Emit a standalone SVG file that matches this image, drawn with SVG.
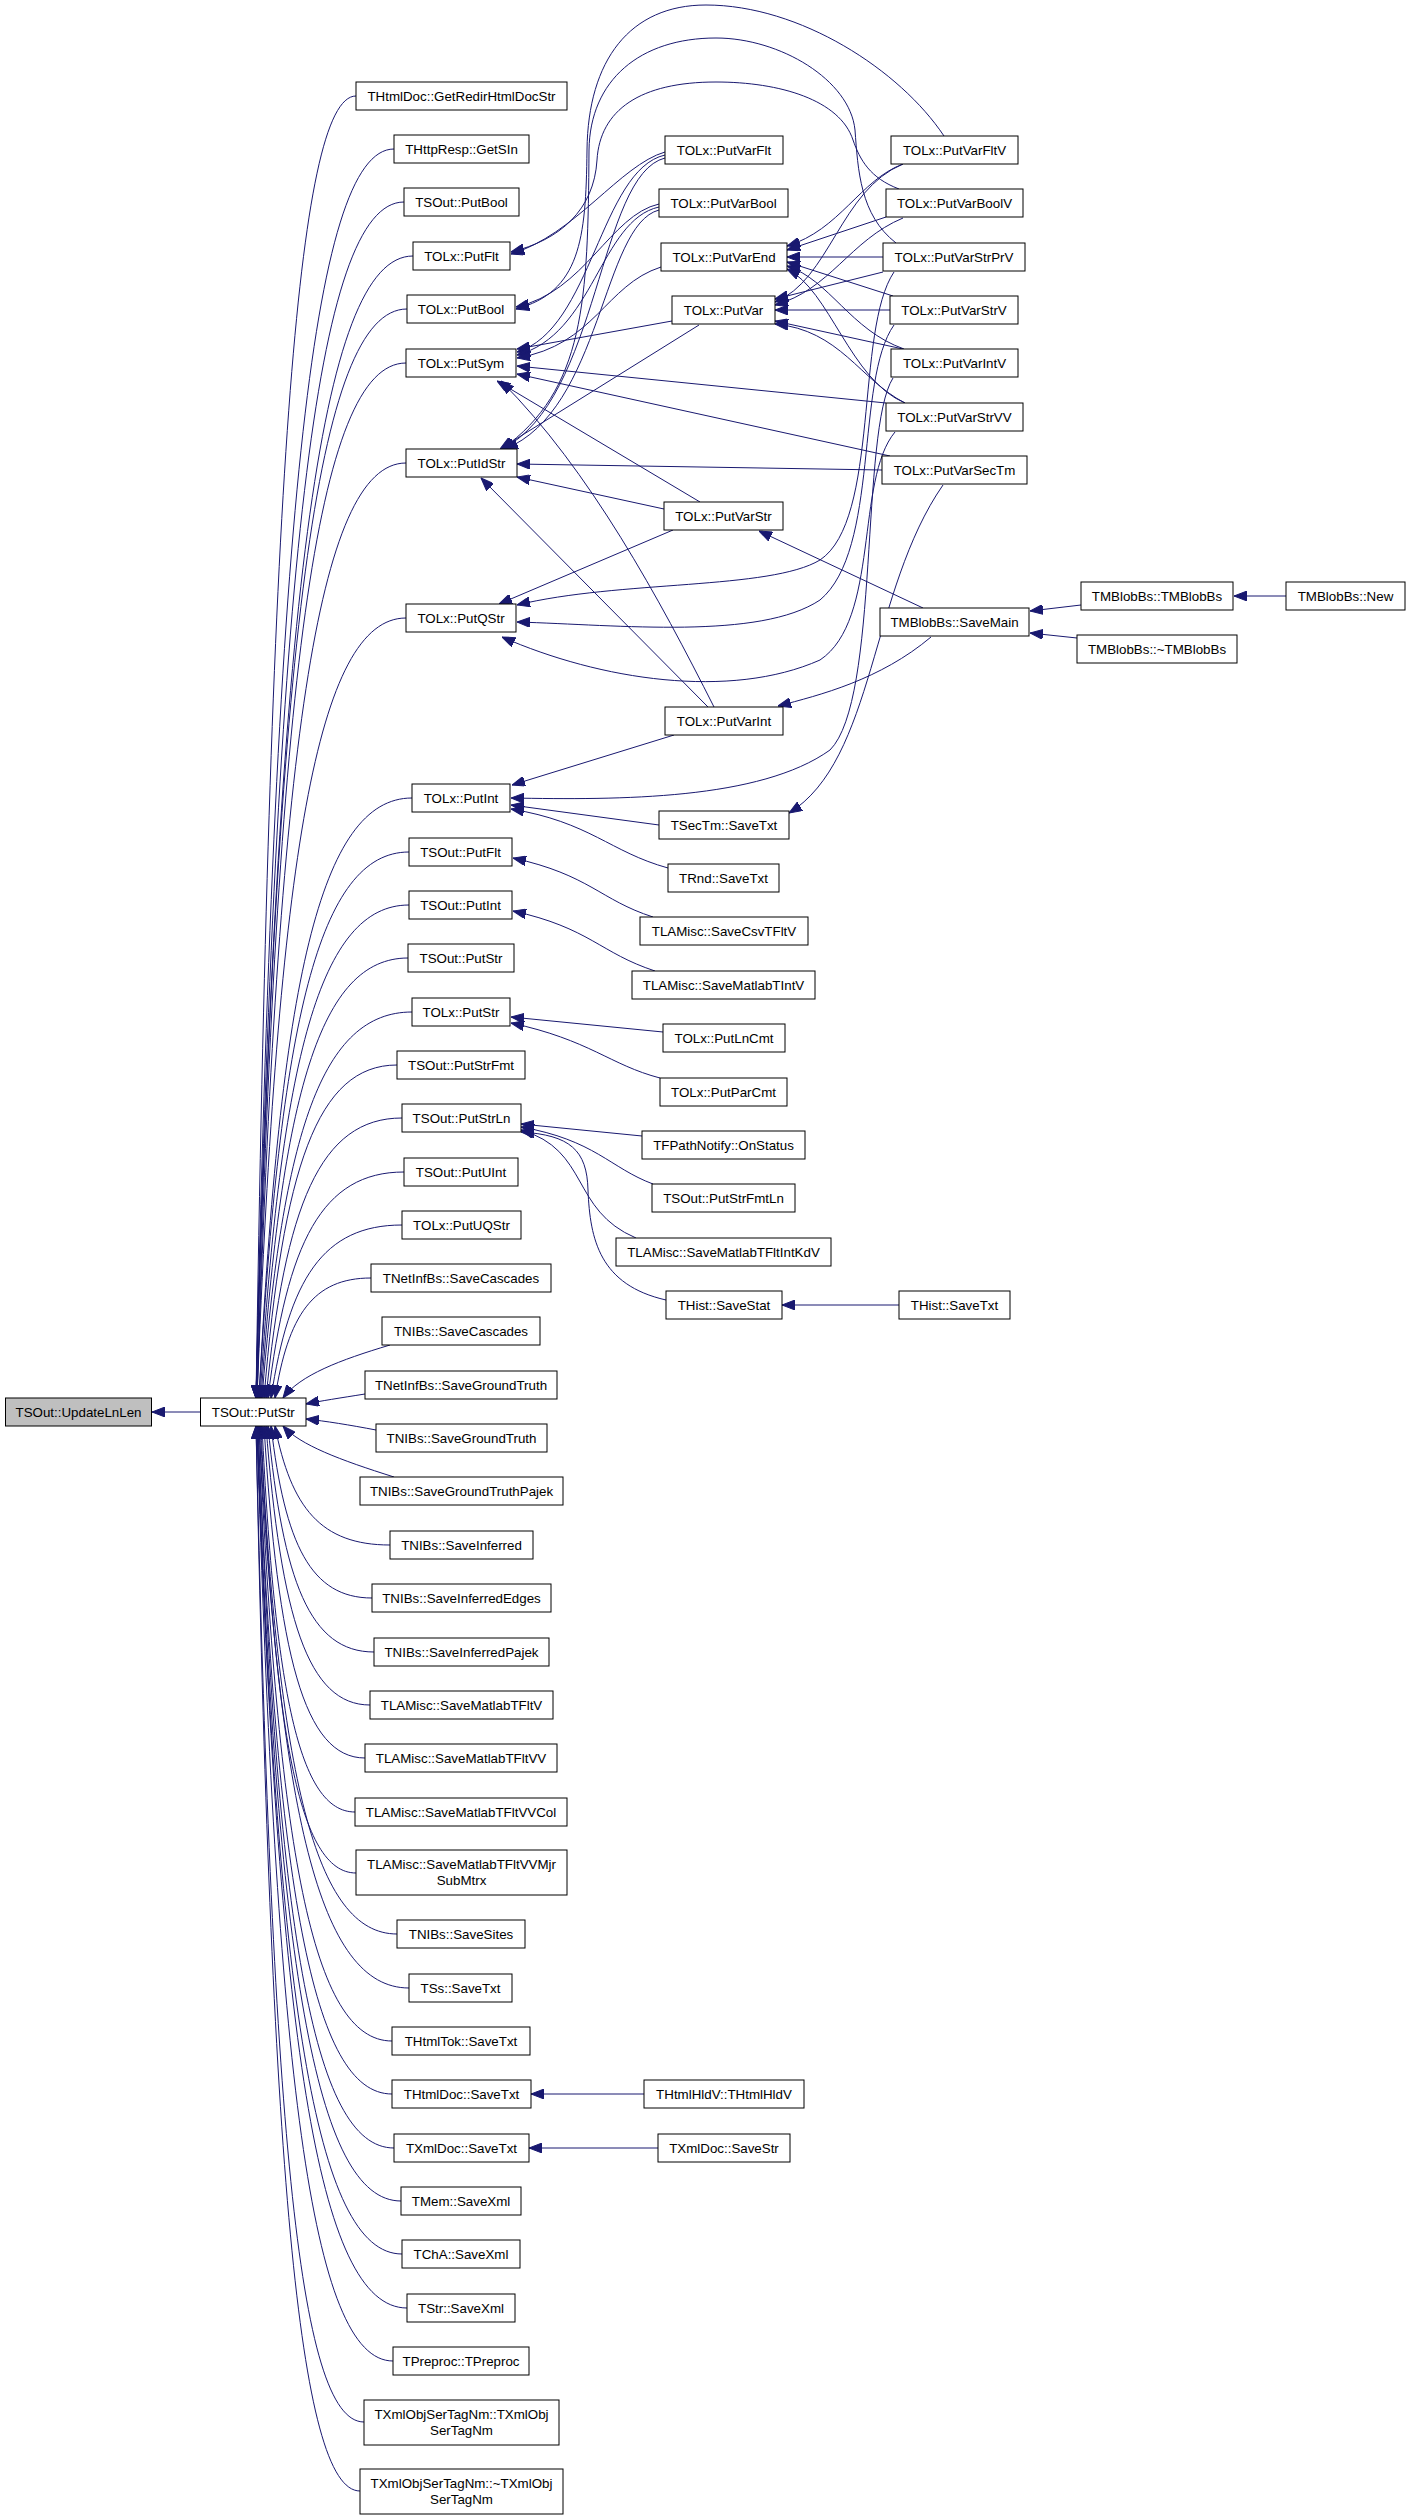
<svg xmlns="http://www.w3.org/2000/svg" width="1411" height="2520" viewBox="0 0 1411 2520">
<defs>
<style>
.n rect{fill:#ffffff;stroke:#000000;stroke-width:1}
.n text{font-family:"Liberation Sans",Arial,sans-serif;font-size:13.33px;fill:#000000;text-anchor:middle}
.g rect{fill:#bfbfbf}
#edges path{fill:none;stroke:#191970;stroke-width:1;marker-end:url(#ah)}
</style>
<marker id="ah" viewBox="0 0 13 10" refX="13" refY="5" markerWidth="13" markerHeight="10" markerUnits="userSpaceOnUse" orient="auto">
<path d="M0,0 L13,5 L0,10 z" fill="#191970" stroke="#191970" stroke-width="1"/>
</marker>
</defs>
<rect width="1411" height="2520" fill="#ffffff"/>
<g id="edges">
<path d="M200.5,1412 L152,1412"/>
<path d="M356,96 C296,96 270,500 256,1398"/>
<path d="M394,149 C311,149 275,536 256,1398"/>
<path d="M404,202 C315,202 277,573 256,1398"/>
<path d="M413,256 C319,256 278,610 256,1398"/>
<path d="M407,309 C316,309 277,647 256,1398"/>
<path d="M406,363 C316,363 277,684 257,1398"/>
<path d="M406,463 C317,463 278,753 257,1398"/>
<path d="M406,618 C317,618 278,860 257,1398"/>
<path d="M412,798 C320,798 280,984 259,1398"/>
<path d="M409,852 C319,852 280,1021 259,1398"/>
<path d="M409,905 C320,905 281,1058 260,1398"/>
<path d="M408,958 C320,958 282,1094 261,1398"/>
<path d="M412,1012 C322,1012 283,1132 262,1398"/>
<path d="M397,1065 C317,1065 283,1168 264,1398"/>
<path d="M402,1118 C320,1118 285,1205 266,1398"/>
<path d="M404,1172 C322,1172 287,1242 268,1398"/>
<path d="M402,1225 C323,1225 289,1279 271,1398"/>
<path d="M371,1278 C313,1278 288,1315 275,1398"/>
<path d="M390,1345 C340,1360 300,1375 283,1398"/>
<path d="M365,1394 C340,1398 320,1401 306,1404"/>
<path d="M376,1430 C350,1425 325,1421 306,1419"/>
<path d="M394,1477 C340,1460 300,1445 283,1426"/>
<path d="M390,1545 C321,1545 291,1508 275,1426"/>
<path d="M372,1598 C311,1598 285,1545 271,1426"/>
<path d="M374,1652 C310,1652 283,1582 268,1426"/>
<path d="M370,1705 C308,1705 281,1619 266,1426"/>
<path d="M365,1758 C304,1758 278,1655 264,1426"/>
<path d="M355,1812 C299,1812 275,1692 262,1426"/>
<path d="M356,1873 C299,1873 274,1734 261,1426"/>
<path d="M397,1934 C315,1934 279,1777 260,1426"/>
<path d="M409,1988 C319,1988 280,1814 259,1426"/>
<path d="M392,2041 C312,2041 278,1850 259,1426"/>
<path d="M392,2094 C312,2094 277,1887 258,1426"/>
<path d="M394,2148 C312,2148 277,1924 258,1426"/>
<path d="M401,2201 C315,2201 277,1961 257,1426"/>
<path d="M402,2254 C315,2254 277,1997 257,1426"/>
<path d="M407,2308 C317,2308 278,2035 257,1426"/>
<path d="M393,2361 C311,2361 276,2071 257,1426"/>
<path d="M364,2422 C297,2422 272,2113 256,1426"/>
<path d="M360,2491 C298,2491 271,2161 256,1426"/>
<path d="M665,152 C620,165 575,235 511,254"/>
<path d="M665,155 C600,170 592,330 517,352"/>
<path d="M665,158 C598,175 600,400 502,449"/>
<path d="M659,204 C610,215 585,292 516,307"/>
<path d="M659,207 C600,220 594,335 517,355"/>
<path d="M659,210 C602,225 602,410 505,449"/>
<path d="M661,267 C605,285 595,345 517,358"/>
<path d="M672,321 L517,349"/>
<path d="M699,325 L500,449"/>
<path d="M886,403 L517,366"/>
<path d="M890,456 L517,374"/>
<path d="M700,502 L497,381"/>
<path d="M664,509 L517,477"/>
<path d="M673,530 L499,604"/>
<path d="M714,707 C660,600 590,470 501,381"/>
<path d="M708,707 L481,478"/>
<path d="M674,735 L512,785"/>
<path d="M882,470 L517,464"/>
<path d="M943,485 C870,590 875,760 789,813"/>
<path d="M923,608 L759,531"/>
<path d="M931,637 C880,680 820,695 778,706"/>
<path d="M1081,605 L1030,611"/>
<path d="M1077,638 L1030,633"/>
<path d="M1286,596 L1234,596"/>
<path d="M903,164 C860,180 840,230 787,246"/>
<path d="M886,217 L787,250"/>
<path d="M883,257 L787,257"/>
<path d="M893,296 L787,262"/>
<path d="M904,349 C850,330 830,280 787,266"/>
<path d="M905,403 C850,380 830,290 787,269"/>
<path d="M903,164 C840,190 830,280 775,302"/>
<path d="M903,218 C850,240 830,290 775,305"/>
<path d="M883,272 L775,299"/>
<path d="M890,310 L775,310"/>
<path d="M903,349 L775,321"/>
<path d="M905,403 C860,380 840,330 775,324"/>
<path d="M944,136 C900,70 800,5 706,5 C630,5 588,60 587,150 C586,240 580,292 516,309"/>
<path d="M896,243 C860,215 858,170 855,130 C850,80 780,38 716,38 C640,38 590,80 589,150 C588,300 585,390 502,449"/>
<path d="M899,189 C870,178 860,160 853,140 C840,100 780,82 716,82 C640,82 600,110 597,160 C594,210 560,240 511,252"/>
<path d="M894,272 C855,330 880,520 820,560 C770,590 620,580 517,605"/>
<path d="M894,325 C855,380 880,550 820,600 C760,640 620,625 517,622"/>
<path d="M895,432 C855,480 880,620 820,660 C730,700 600,680 502,637"/>
<path d="M893,378 C860,430 880,700 830,750 C760,800 620,800 511,798"/>
<path d="M659,825 L511,805"/>
<path d="M668,868 C610,852 590,822 511,809"/>
<path d="M653,917 C600,900 590,875 513,858"/>
<path d="M655,971 C600,953 590,928 513,911"/>
<path d="M663,1032 L511,1017"/>
<path d="M660,1078 C610,1065 590,1040 511,1023"/>
<path d="M642,1136 L521,1124"/>
<path d="M653,1184 C610,1168 595,1140 521,1127"/>
<path d="M636,1238 C570,1210 590,1150 521,1130"/>
<path d="M666,1300 C600,1285 590,1240 588,1190 C587,1150 570,1135 521,1132"/>
<path d="M899,1305 L782,1305"/>
<path d="M644,2094 L531,2094"/>
<path d="M658,2148 L529,2148"/>
</g>
<g id="n_updatelnlen" class="n g"><rect x="5.5" y="1398" width="146" height="28"/><text x="78.5" y="1416.5">TSOut::UpdateLnLen</text></g>
<g id="n_putstr" class="n"><rect x="200.5" y="1398" width="105.5" height="28"/><text x="253.3" y="1416.5">TSOut::PutStr</text></g>
<g id="n_getredir" class="n"><rect x="356" y="82" width="211" height="28"/><text x="461.5" y="100.5">THtmlDoc::GetRedirHtmlDocStr</text></g>
<g id="n_getsin" class="n"><rect x="394" y="135" width="135" height="28"/><text x="461.5" y="153.5">THttpResp::GetSIn</text></g>
<g id="n_tsout_putbool" class="n"><rect x="404" y="188" width="115" height="28"/><text x="461.5" y="206.5">TSOut::PutBool</text></g>
<g id="n_tolx_putflt" class="n"><rect x="413" y="242" width="97" height="28"/><text x="461.5" y="260.5">TOLx::PutFlt</text></g>
<g id="n_tolx_putbool" class="n"><rect x="407" y="295" width="108" height="28"/><text x="461" y="313.5">TOLx::PutBool</text></g>
<g id="n_tolx_putsym" class="n"><rect x="406" y="349" width="110" height="28"/><text x="461" y="367.5">TOLx::PutSym</text></g>
<g id="n_tolx_putidstr" class="n"><rect x="406" y="449" width="111" height="28"/><text x="461.5" y="467.5">TOLx::PutIdStr</text></g>
<g id="n_tolx_putqstr" class="n"><rect x="406" y="604" width="110" height="28"/><text x="461" y="622.5">TOLx::PutQStr</text></g>
<g id="n_tolx_putint" class="n"><rect x="412" y="784" width="98" height="28"/><text x="461" y="802.5">TOLx::PutInt</text></g>
<g id="n_tsout_putflt" class="n"><rect x="409" y="838" width="103" height="28"/><text x="460.5" y="856.5">TSOut::PutFlt</text></g>
<g id="n_tsout_putint" class="n"><rect x="409" y="891" width="103" height="28"/><text x="460.5" y="909.5">TSOut::PutInt</text></g>
<g id="n_tsout_putstr2" class="n"><rect x="408" y="944" width="106" height="28"/><text x="461" y="962.5">TSOut::PutStr</text></g>
<g id="n_tolx_putstr" class="n"><rect x="412" y="998" width="98" height="28"/><text x="461" y="1016.5">TOLx::PutStr</text></g>
<g id="n_putstrfmt" class="n"><rect x="397" y="1051" width="128" height="28"/><text x="461" y="1069.5">TSOut::PutStrFmt</text></g>
<g id="n_putstrln" class="n"><rect x="402" y="1104" width="119" height="28"/><text x="461.5" y="1122.5">TSOut::PutStrLn</text></g>
<g id="n_putuint" class="n"><rect x="404" y="1158" width="114" height="28"/><text x="461" y="1176.5">TSOut::PutUInt</text></g>
<g id="n_putuqstr" class="n"><rect x="402" y="1211" width="119" height="28"/><text x="461.5" y="1229.5">TOLx::PutUQStr</text></g>
<g id="n_netinf_savecascades" class="n"><rect x="371" y="1264" width="180" height="28"/><text x="461" y="1282.5">TNetInfBs::SaveCascades</text></g>
<g id="n_nibs_savecascades" class="n"><rect x="382" y="1317" width="158" height="28"/><text x="461" y="1335.5">TNIBs::SaveCascades</text></g>
<g id="n_netinf_savegt" class="n"><rect x="365" y="1371" width="192" height="28"/><text x="461" y="1389.5">TNetInfBs::SaveGroundTruth</text></g>
<g id="n_nibs_savegt" class="n"><rect x="376" y="1424" width="171" height="28"/><text x="461.5" y="1442.5">TNIBs::SaveGroundTruth</text></g>
<g id="n_nibs_savegtpajek" class="n"><rect x="360" y="1477" width="203" height="28"/><text x="461.5" y="1495.5">TNIBs::SaveGroundTruthPajek</text></g>
<g id="n_nibs_saveinferred" class="n"><rect x="390" y="1531" width="143" height="28"/><text x="461.5" y="1549.5">TNIBs::SaveInferred</text></g>
<g id="n_nibs_saveinferrededges" class="n"><rect x="372" y="1584" width="179" height="28"/><text x="461.5" y="1602.5">TNIBs::SaveInferredEdges</text></g>
<g id="n_nibs_saveinferredpajek" class="n"><rect x="374" y="1638" width="175" height="28"/><text x="461.5" y="1656.5">TNIBs::SaveInferredPajek</text></g>
<g id="n_lam_tfltv" class="n"><rect x="370" y="1691" width="183" height="28"/><text x="461.5" y="1709.5">TLAMisc::SaveMatlabTFltV</text></g>
<g id="n_lam_tfltvv" class="n"><rect x="365" y="1744" width="192" height="28"/><text x="461" y="1762.5">TLAMisc::SaveMatlabTFltVV</text></g>
<g id="n_lam_tfltvvcol" class="n"><rect x="355" y="1798" width="212" height="28"/><text x="461" y="1816.5">TLAMisc::SaveMatlabTFltVVCol</text></g>
<g id="n_lam_tfltvvmjr" class="n"><rect x="356" y="1850" width="211" height="45"/><text x="461.5" y="1868.5">TLAMisc::SaveMatlabTFltVVMjr</text><text x="461.5" y="1885">SubMtrx</text></g>
<g id="n_nibs_savesites" class="n"><rect x="397" y="1920" width="128" height="28"/><text x="461" y="1938.5">TNIBs::SaveSites</text></g>
<g id="n_tss_savetxt" class="n"><rect x="409" y="1974" width="103" height="28"/><text x="460.5" y="1992.5">TSs::SaveTxt</text></g>
<g id="n_thtmltok_savetxt" class="n"><rect x="392" y="2027" width="138" height="28"/><text x="461" y="2045.5">THtmlTok::SaveTxt</text></g>
<g id="n_thtmldoc_savetxt" class="n"><rect x="392" y="2080" width="139" height="28"/><text x="461.5" y="2098.5">THtmlDoc::SaveTxt</text></g>
<g id="n_txmldoc_savetxt" class="n"><rect x="394" y="2134" width="135" height="28"/><text x="461.5" y="2152.5">TXmlDoc::SaveTxt</text></g>
<g id="n_tmem_savexml" class="n"><rect x="401" y="2187" width="120" height="28"/><text x="461" y="2205.5">TMem::SaveXml</text></g>
<g id="n_tcha_savexml" class="n"><rect x="402" y="2240" width="118" height="28"/><text x="461" y="2258.5">TChA::SaveXml</text></g>
<g id="n_tstr_savexml" class="n"><rect x="407" y="2294" width="108" height="28"/><text x="461" y="2312.5">TStr::SaveXml</text></g>
<g id="n_tpreproc" class="n"><rect x="393" y="2347" width="136" height="28"/><text x="461" y="2365.5">TPreproc::TPreproc</text></g>
<g id="n_txmlobj_ctor" class="n"><rect x="364" y="2400" width="195" height="45"/><text x="461.5" y="2418.5">TXmlObjSerTagNm::TXmlObj</text><text x="461.5" y="2435">SerTagNm</text></g>
<g id="n_txmlobj_dtor" class="n"><rect x="360" y="2469" width="203" height="45"/><text x="461.5" y="2487.5">TXmlObjSerTagNm::~TXmlObj</text><text x="461.5" y="2504">SerTagNm</text></g>
<g id="n_putvarflt" class="n"><rect x="665" y="136" width="118" height="28"/><text x="724" y="154.5">TOLx::PutVarFlt</text></g>
<g id="n_putvarbool" class="n"><rect x="659" y="189" width="129" height="28"/><text x="723.5" y="207.5">TOLx::PutVarBool</text></g>
<g id="n_putvarend" class="n"><rect x="661" y="243" width="126" height="28"/><text x="724" y="261.5">TOLx::PutVarEnd</text></g>
<g id="n_putvar" class="n"><rect x="672" y="296" width="103" height="28"/><text x="723.5" y="314.5">TOLx::PutVar</text></g>
<g id="n_putvarstr" class="n"><rect x="664" y="502" width="119" height="28"/><text x="723.5" y="520.5">TOLx::PutVarStr</text></g>
<g id="n_putvarint" class="n"><rect x="665" y="707" width="118" height="28"/><text x="724" y="725.5">TOLx::PutVarInt</text></g>
<g id="n_tsectm_savetxt" class="n"><rect x="659" y="811" width="130" height="28"/><text x="724" y="829.5">TSecTm::SaveTxt</text></g>
<g id="n_trnd_savetxt" class="n"><rect x="668" y="864" width="111" height="28"/><text x="723.5" y="882.5">TRnd::SaveTxt</text></g>
<g id="n_lam_savecsvtfltv" class="n"><rect x="640" y="917" width="168" height="28"/><text x="724" y="935.5">TLAMisc::SaveCsvTFltV</text></g>
<g id="n_lam_savematlabtintv" class="n"><rect x="632" y="971" width="183" height="28"/><text x="723.5" y="989.5">TLAMisc::SaveMatlabTIntV</text></g>
<g id="n_putlncmt" class="n"><rect x="663" y="1024" width="122" height="28"/><text x="724" y="1042.5">TOLx::PutLnCmt</text></g>
<g id="n_putparcmt" class="n"><rect x="660" y="1078" width="127" height="28"/><text x="723.5" y="1096.5">TOLx::PutParCmt</text></g>
<g id="n_onstatus" class="n"><rect x="642" y="1131" width="163" height="28"/><text x="723.5" y="1149.5">TFPathNotify::OnStatus</text></g>
<g id="n_putstrfmtln" class="n"><rect x="652" y="1184" width="143" height="28"/><text x="723.5" y="1202.5">TSOut::PutStrFmtLn</text></g>
<g id="n_lam_tfltintkdv" class="n"><rect x="616" y="1238" width="215" height="28"/><text x="723.5" y="1256.5">TLAMisc::SaveMatlabTFltIntKdV</text></g>
<g id="n_thist_savestat" class="n"><rect x="666" y="1291" width="116" height="28"/><text x="724" y="1309.5">THist::SaveStat</text></g>
<g id="n_thtmlhldv" class="n"><rect x="644" y="2080" width="160" height="28"/><text x="724" y="2098.5">THtmlHldV::THtmlHldV</text></g>
<g id="n_txmldoc_savestr" class="n"><rect x="658" y="2134" width="132" height="28"/><text x="724" y="2152.5">TXmlDoc::SaveStr</text></g>
<g id="n_putvarfltv" class="n"><rect x="891" y="136" width="127" height="28"/><text x="954.5" y="154.5">TOLx::PutVarFltV</text></g>
<g id="n_putvarboolv" class="n"><rect x="886" y="189" width="137" height="28"/><text x="954.5" y="207.5">TOLx::PutVarBoolV</text></g>
<g id="n_putvarstrprv" class="n"><rect x="883" y="243" width="142" height="28"/><text x="954" y="261.5">TOLx::PutVarStrPrV</text></g>
<g id="n_putvarstrv" class="n"><rect x="890" y="296" width="128" height="28"/><text x="954" y="314.5">TOLx::PutVarStrV</text></g>
<g id="n_putvarintv" class="n"><rect x="891" y="349" width="127" height="28"/><text x="954.5" y="367.5">TOLx::PutVarIntV</text></g>
<g id="n_putvarstrvv" class="n"><rect x="886" y="403" width="137" height="28"/><text x="954.5" y="421.5">TOLx::PutVarStrVV</text></g>
<g id="n_putvarsectm" class="n"><rect x="882" y="456" width="145" height="28"/><text x="954.5" y="474.5">TOLx::PutVarSecTm</text></g>
<g id="n_savemain" class="n"><rect x="880" y="608" width="149" height="28"/><text x="954.5" y="626.5">TMBlobBs::SaveMain</text></g>
<g id="n_thist_savetxt" class="n"><rect x="899" y="1291" width="111" height="28"/><text x="954.5" y="1309.5">THist::SaveTxt</text></g>
<g id="n_tmblobbs_ctor" class="n"><rect x="1081" y="582" width="152" height="28"/><text x="1157" y="600.5">TMBlobBs::TMBlobBs</text></g>
<g id="n_tmblobbs_dtor" class="n"><rect x="1077" y="635" width="160" height="28"/><text x="1157" y="653.5">TMBlobBs::~TMBlobBs</text></g>
<g id="n_tmblobbs_new" class="n"><rect x="1286" y="582" width="119" height="28"/><text x="1345.5" y="600.5">TMBlobBs::New</text></g>
</svg>
